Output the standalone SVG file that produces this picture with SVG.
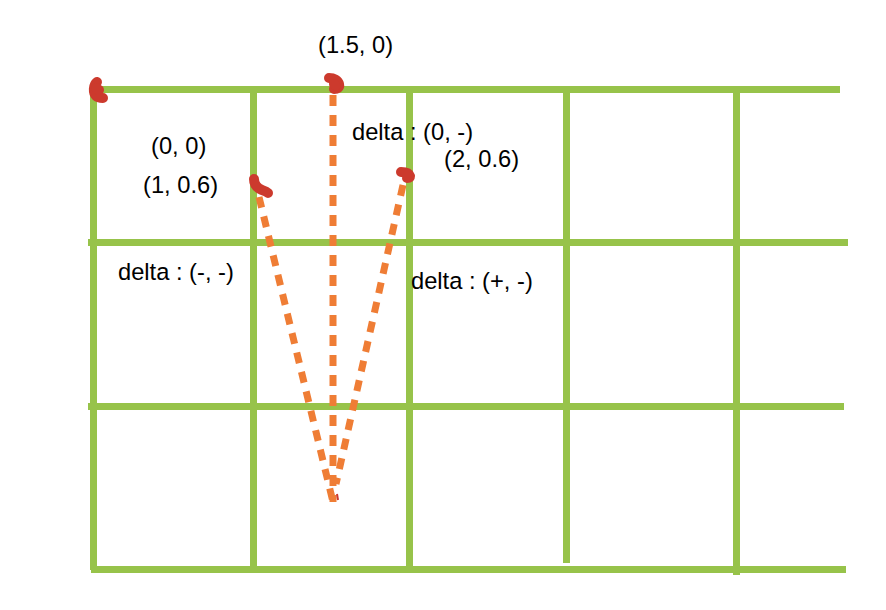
<svg xmlns="http://www.w3.org/2000/svg" width="886" height="610" viewBox="0 0 886 610">
<style>
.grid{stroke:#97c34a;stroke-width:7;fill:none;stroke-linecap:butt}
.dash{stroke:#ef7d35;stroke-width:7;fill:none;stroke-dasharray:11 9}
.pt{stroke:#cc3a2d;stroke-width:10;fill:none;stroke-linecap:round;stroke-linejoin:round}
text{font-family:"Liberation Sans",Arial,sans-serif;font-size:23.7px;fill:#000}
</style>
<rect width="886" height="610" fill="#fff"/>
<g id="grid">
<line class="grid" x1="90" y1="89.5" x2="840" y2="89.5"/>
<line class="grid" x1="88" y1="242.5" x2="848" y2="242.5"/>
<line class="grid" x1="88" y1="406.5" x2="844" y2="406.5"/>
<line class="grid" x1="91" y1="569.5" x2="846" y2="569.5"/>
<line class="grid" x1="93.5" y1="86" x2="93.5" y2="570"/>
<line class="grid" x1="253.5" y1="86" x2="253.5" y2="571"/>
<line class="grid" x1="409.5" y1="86" x2="409.5" y2="571"/>
<line class="grid" x1="566.5" y1="86" x2="566.5" y2="563"/>
<line class="grid" x1="736.5" y1="86" x2="736.5" y2="575"/>
</g>
<g id="connectors">
<line class="dash" x1="333" y1="95" x2="333" y2="502"/>
<line class="dash" x1="259" y1="197" x2="333" y2="502"/>
<line class="dash" x1="403" y1="185" x2="336" y2="484"/>
</g>
<g id="p00">
<path class="pt" d="M97,82 C93,85 93,93 96,96 C98,98 101,98 103,98"/>
<path class="pt" d="M96,88 L99,90"/>
</g>
<g id="p150">
<path class="pt" d="M329,78 C334,78 338,80 339,84 C340,88 337,89 334,89"/>
<path class="pt" d="M334,84 L336,86"/>
</g>
<g id="p106">
<path class="pt" d="M254,179 C254,184 257,188 262,190 C265,191 267,192 268,193"/>
</g>
<g id="p206">
<path class="pt" d="M401,172 C405,172 409,173 410,176 C410,178 408,178 407,178"/>
</g>
<path d="M337,494 L338,500" stroke="#cc3a2d" stroke-width="2"/>
<g id="labels">
<text x="318" y="53">(1.5, 0)</text>
<text x="151" y="154">(0, 0)</text>
<text x="143" y="193">(1, 0.6)</text>
<text x="352" y="140">delta : (0, -)</text>
<text x="444" y="167">(2, 0.6)</text>
<text x="118" y="280">delta : (-, -)</text>
<text x="411" y="289">delta : (+, -)</text>
</g>
</svg>
